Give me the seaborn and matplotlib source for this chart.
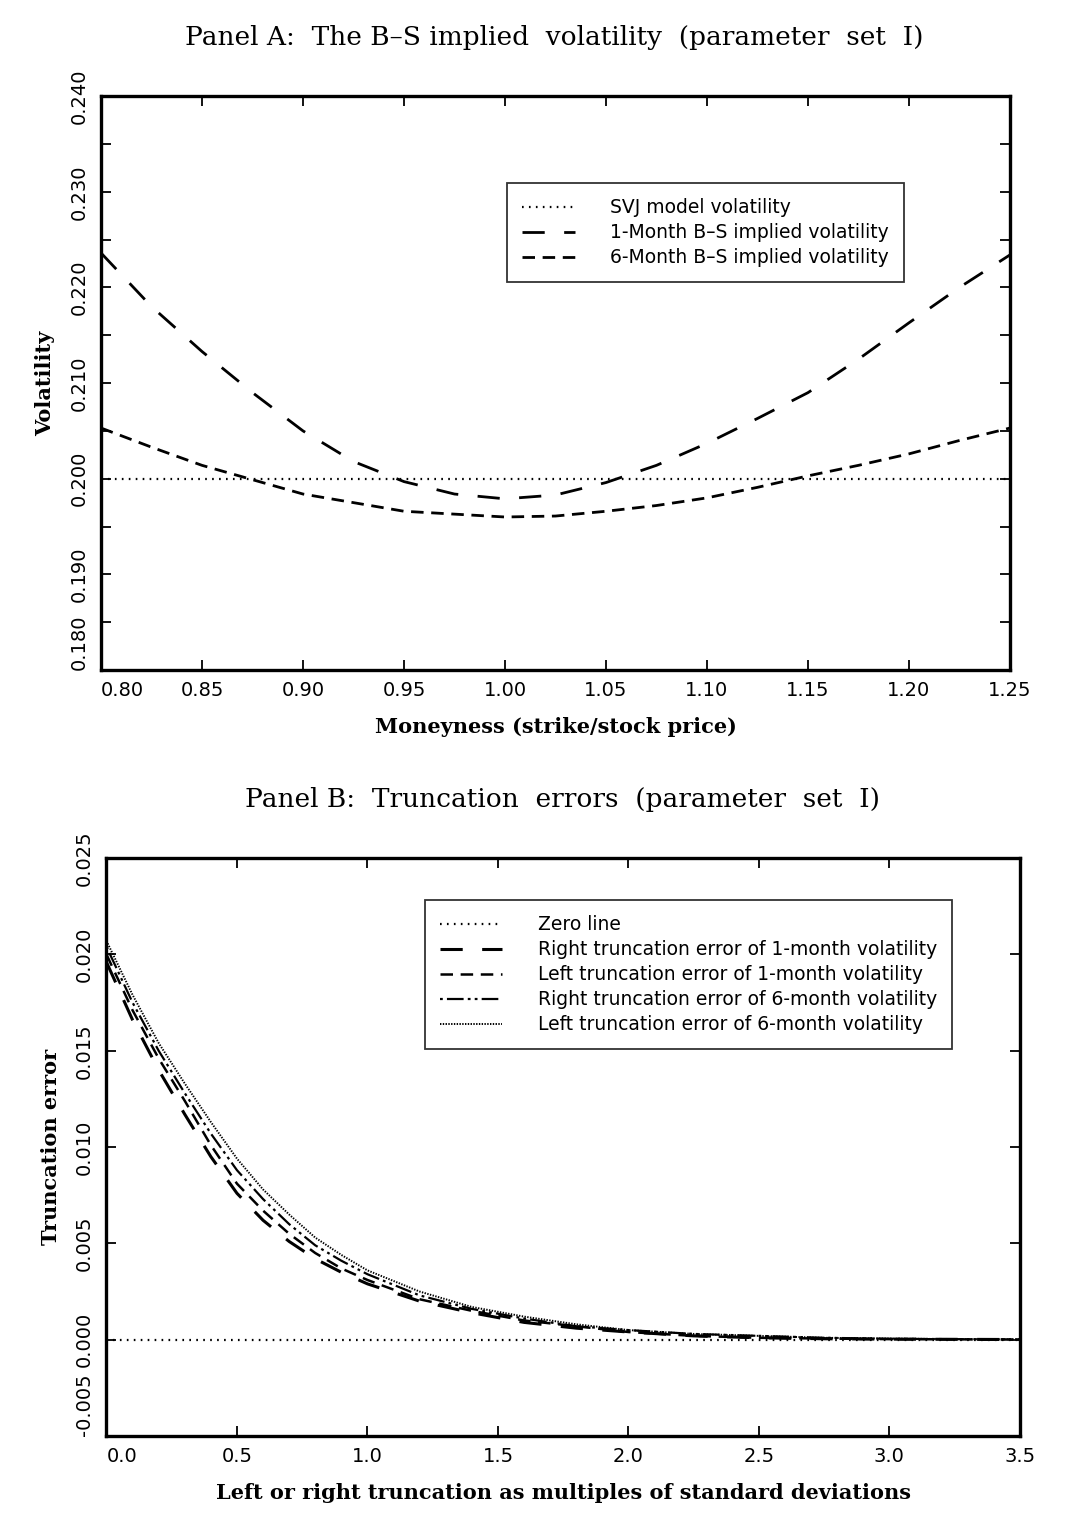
import matplotlib
matplotlib.use("Agg")
import matplotlib.pyplot as plt
import seaborn as sns
from matplotlib.ticker import MultipleLocator, FormatStrFormatter

# Panel A: implied volatility vs moneyness
moneyness = [0.800, 0.825, 0.850, 0.875, 0.900, 0.925, 0.950, 0.975, 1.000, 1.025,
             1.050, 1.075, 1.100, 1.125, 1.150, 1.175, 1.200, 1.225, 1.250]
svj_vol = [0.200] * 19
bs_1m = [0.2236, 0.2180, 0.2133, 0.2090, 0.2050, 0.2018, 0.1997, 0.1984, 0.1979, 0.1983,
         0.1996, 0.2014, 0.2037, 0.2063, 0.2090, 0.2125, 0.2163, 0.2200, 0.2234]
bs_6m = [0.2053, 0.2033, 0.2014, 0.1999, 0.1984, 0.1975, 0.1966, 0.1963, 0.1960, 0.1961,
         0.1966, 0.1972, 0.1980, 0.1991, 0.2003, 0.2014, 0.2026, 0.2040, 0.2053]

# Panel B: truncation errors
trunc_sd = [0.0, 0.1, 0.2, 0.3, 0.4, 0.5, 0.6, 0.7, 0.8, 0.9, 1.0, 1.2, 1.4, 1.6, 1.8,
            2.0, 2.25, 2.5, 2.75, 3.0, 3.25, 3.5]
zero_line = [0.0] * 22
right_1m = [0.0196, 0.0166, 0.0140, 0.0117, 0.0095, 0.0076, 0.0062, 0.0051, 0.0042, 0.0035,
            0.0029, 0.0020, 0.0014, 0.0009, 0.0006, 0.0004, 0.0002, 0.0001, 0.00005, 0.00003,
            0.00002, 0.00001]
left_1m = [0.0200, 0.0171, 0.0146, 0.0124, 0.0101, 0.0081, 0.0067, 0.0055, 0.0045, 0.0037,
           0.0031, 0.0021, 0.0015, 0.0010, 0.0007, 0.0004, 0.0002, 0.0001, 0.00006, 0.00003,
           0.00002, 0.00001]
right_6m = [0.0204, 0.0175, 0.0150, 0.0128, 0.0107, 0.0088, 0.0073, 0.0060, 0.0049, 0.0041,
            0.0034, 0.0023, 0.0016, 0.0011, 0.0007, 0.0005, 0.0003, 0.0002, 0.0001, 0.00005,
            0.00003, 0.00002]
left_6m = [0.0207, 0.0179, 0.0154, 0.0133, 0.0113, 0.0094, 0.0078, 0.0065, 0.0053, 0.0044,
           0.0036, 0.0025, 0.0017, 0.0012, 0.0008, 0.0005, 0.0003, 0.0002, 0.0001, 0.00006,
           0.00003, 0.00002]

sns.set_style("white")
plt.rcParams['font.family'] = ['DejaVu Sans']
plt.rcParams['lines.scale_dashes'] = False
plt.rcParams['text.color'] = 'black'
plt.rcParams['axes.labelcolor'] = 'black'
plt.rcParams['xtick.color'] = 'black'
plt.rcParams['ytick.color'] = 'black'

DOT = (0, (1.2, 3.8))
LONG = (0, (16, 14))
MED = (0, (9, 5.5))
DASHDOT = (0, (2, 3, 12, 3, 2, 3))
FINE = (0, (1, 1))

serif_bold = dict(family='DejaVu Serif', weight='bold', size=15, color='black')
title_font = dict(family='DejaVu Serif', size=19, color='black')


def style_axes(ax):
    for s in ax.spines.values():
        s.set_linewidth(2.4)
        s.set_color('black')
    ax.tick_params(which='both', direction='in', length=7, width=1.3,
                   left=True, bottom=True, top=True, right=True,
                   labelsize=14, colors='black')
    ax.tick_params(axis='x', pad=8)
    ax.tick_params(axis='y', pad=9)


def fix_ticklabels(ax, x0, y0):
    # rotated y labels; first labels nudged off the corner
    for t in ax.yaxis.get_major_ticks():
        t.label1.set_rotation(90)
        t.label1.set_va('bottom' if abs(t.get_loc() - y0) < 1e-9 else 'center')
    for t in ax.xaxis.get_major_ticks():
        if abs(t.get_loc() - x0) < 1e-9:
            t.label1.set_ha('left')


def add_line(ax, x, y, ls, lw, label):
    sns.lineplot(x=x, y=y, ax=ax, color='black', linewidth=lw, label=label)
    ax.lines[-1].set_linestyle(ls)


leg_kw = dict(loc='upper left', frameon=True, fancybox=False, edgecolor='black',
              fontsize=13.5, handletextpad=1.9, borderpad=0.8, labelspacing=0.32,
              borderaxespad=0, labelcolor='black')

fig = plt.figure(figsize=(10.7, 15.4), dpi=100)

# ---- Panel A
axA = fig.add_axes([0.0944, 0.5649, 0.8495, 0.3727])
add_line(axA, moneyness, svj_vol, DOT, 1.6, 'SVJ model volatility')
add_line(axA, moneyness, bs_1m, LONG, 2.0, '1-Month B\u2013S implied volatility')
add_line(axA, moneyness, bs_6m, MED, 2.0, '6-Month B\u2013S implied volatility')
axA.set_xlim(0.80, 1.25)
axA.set_ylim(0.180, 0.240)
axA.xaxis.set_major_locator(MultipleLocator(0.05))
axA.xaxis.set_major_formatter(FormatStrFormatter('%.2f'))
axA.yaxis.set_major_locator(MultipleLocator(0.010))
axA.yaxis.set_minor_locator(MultipleLocator(0.005))
axA.yaxis.set_major_formatter(FormatStrFormatter('%.3f'))
style_axes(axA)
axA.set_xlabel('Moneyness (strike/stock price)', fontdict=serif_bold, labelpad=12)
axA.set_ylabel('Volatility', fontdict=serif_bold, labelpad=10)
legA = axA.legend(bbox_to_anchor=(0.447, 0.848), handlelength=2.8, **leg_kw)
legA.get_frame().set_linewidth(1.3)

# ---- Panel B
axB = fig.add_axes([0.0995, 0.0675, 0.8537, 0.3753])
add_line(axB, trunc_sd, zero_line, DOT, 1.6, 'Zero line')
add_line(axB, trunc_sd, right_1m, LONG, 2.2, 'Right truncation error of 1-month volatility')
add_line(axB, trunc_sd, left_1m, MED, 1.8, 'Left truncation error of 1-month volatility')
add_line(axB, trunc_sd, right_6m, DASHDOT, 1.6, 'Right truncation error of 6-month volatility')
add_line(axB, trunc_sd, left_6m, FINE, 1.4, 'Left truncation error of 6-month volatility')
axB.set_xlim(0.0, 3.5)
axB.set_ylim(-0.005, 0.025)
axB.xaxis.set_major_locator(MultipleLocator(0.5))
axB.xaxis.set_major_formatter(FormatStrFormatter('%.1f'))
axB.yaxis.set_major_locator(MultipleLocator(0.005))
axB.yaxis.set_major_formatter(FormatStrFormatter('%.3f'))
style_axes(axB)
axB.set_xlabel('Left or right truncation as multiples of standard deviations',
               fontdict=serif_bold, labelpad=12)
axB.set_ylabel('Truncation error', fontdict=serif_bold, labelpad=10)
legB = axB.legend(bbox_to_anchor=(0.349, 0.927), handlelength=3.3, **leg_kw)
legB.get_frame().set_linewidth(1.3)

fig.text(0.518, 1 - 38 / 1540, 'Panel A:  The B\u2013S implied  volatility  (parameter  set  I)',
         ha='center', va='center', fontdict=title_font)
fig.text(0.526, 1 - 800 / 1540, 'Panel B:  Truncation  errors  (parameter  set  I)',
         ha='center', va='center', fontdict=title_font)

fig.canvas.draw()
fix_ticklabels(axA, 0.80, 0.180)
fix_ticklabels(axB, 0.0, -0.005)

fig.savefig('out.png', dpi=100, facecolor='white')
